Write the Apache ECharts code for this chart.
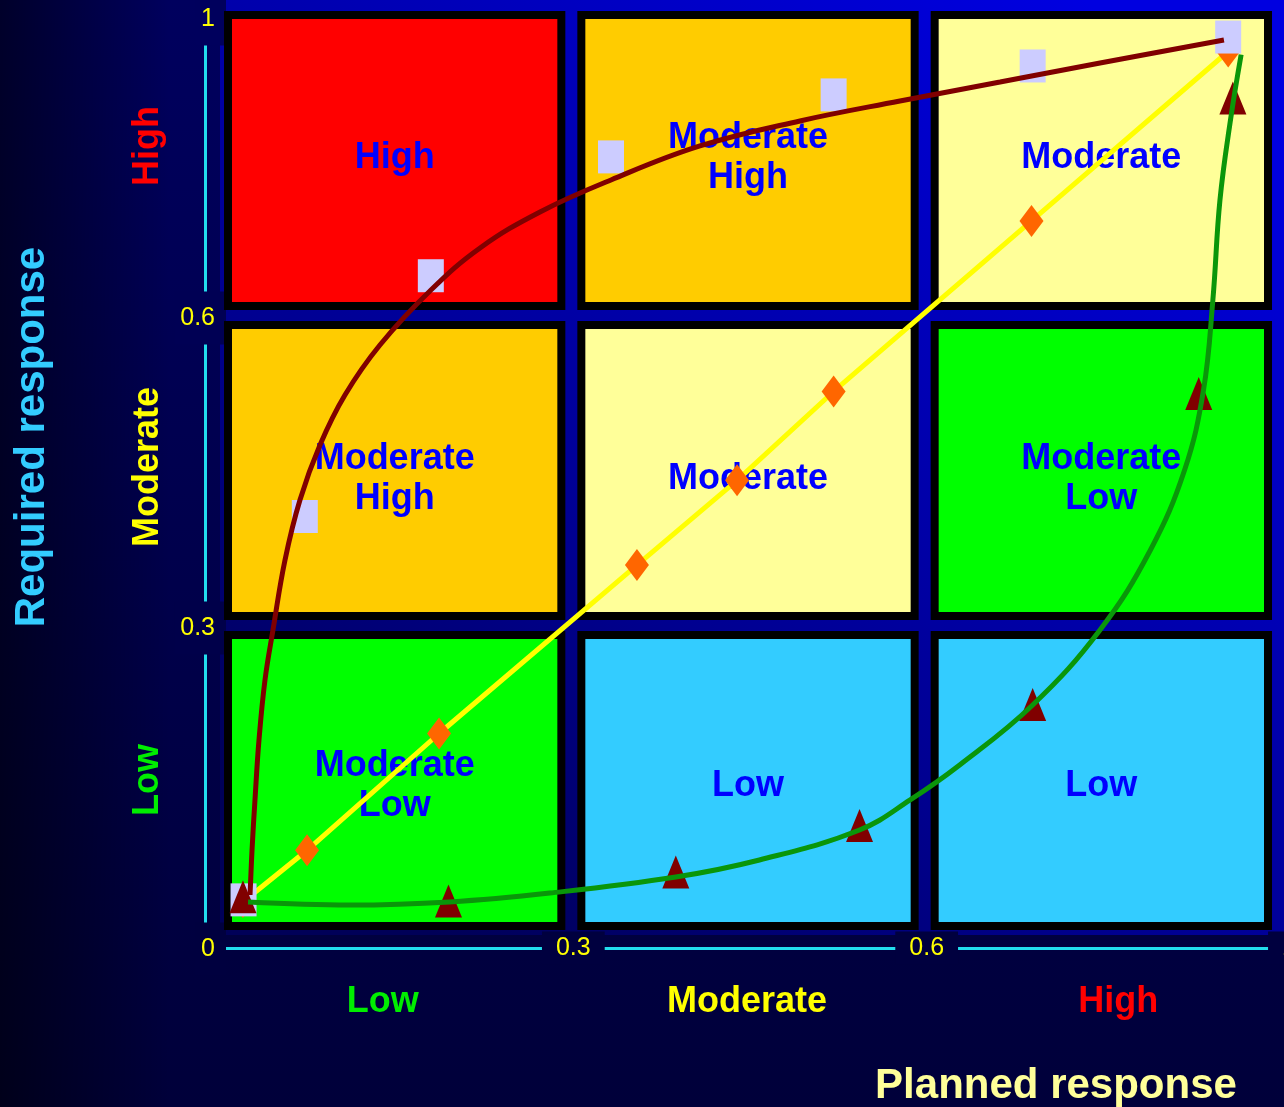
<!DOCTYPE html>
<html>
<head>
<meta charset="utf-8">
<script src="https://cdn.jsdelivr.net/npm/echarts@6/dist/echarts.min.js"></script>
<style>
  html, body { margin: 0; padding: 0; }
  #chart { width: 1284px; height: 1107px; }
</style>
</head>
<body>
<div id="chart"></div>
<script>
// Response bands (bottom to top / left to right)
const bands = ['Low', 'Moderate', 'High'];
const bandColors = ['#00ee00', '#ffff00', '#ff0000'];
const bandEdges = [0, 0.3, 0.6, 0.9];

// Tick labels of the two value axes
const yTickLabels = ['0', '0.3', '0.6', '1'];
const xTickLabels = ['0', '0.3', '0.6', '1'];

// Matrix cells, rows from Low (bottom) to High (top), columns Low..High
const cellFills = [
  ['#00ff00', '#33ccff', '#33ccff'],
  ['#ffcc00', '#ffff99', '#00ff00'],
  ['#ff0000', '#ffcc00', '#ffff99']
];
const cellLabels = [
  ['Moderate\nLow', 'Low', 'Low'],
  ['Moderate\nHigh', 'Moderate', 'Moderate\nLow'],
  ['High', 'Moderate\nHigh', 'Moderate']
];

// Lavender squares and their dark red trend curve
const squareX = [0.020, 0.072, 0.179, 0.332, 0.521, 0.690, 0.856];
const squareY = [0.034, 0.405, 0.638, 0.753, 0.813, 0.841, 0.869];
const redCurveX = [0.0255, 0.0272, 0.0297, 0.0331, 0.0382, 0.0450, 0.0552, 0.0679, 0.0849, 0.1061, 0.1358, 0.1791, 0.2208, 0.2717, 0.3320, 0.4075, 0.4924, 0.5773, 0.6623, 0.7472, 0.8524];
const redCurveY = [0.0387, 0.0823, 0.1307, 0.1887, 0.2468, 0.2952, 0.3629, 0.4210, 0.4742, 0.5226, 0.5710, 0.6242, 0.6649, 0.6997, 0.7307, 0.7636, 0.7878, 0.8071, 0.8255, 0.8439, 0.8662];

// Orange diamonds on the yellow line
const diamondX = [0.0195, 0.0739, 0.186, 0.354, 0.439, 0.521, 0.689, 0.856];
const diamondY = [0.032, 0.082, 0.195, 0.358, 0.440, 0.526, 0.691, 0.855];

// Dark red triangles and their green trend curve
const triangleX = [0.0195, 0.194, 0.387, 0.543, 0.690, 0.831, 0.860];
const triangleY = [0.037, 0.033, 0.061, 0.106, 0.223, 0.524, 0.810];
const greenCurveX = [0.0238, 0.110, 0.195, 0.280, 0.387, 0.458, 0.543, 0.586, 0.628, 0.690, 0.747, 0.790, 0.819, 0.835, 0.843, 0.849, 0.858, 0.867];
const greenCurveY = [0.0319, 0.029, 0.032, 0.0406, 0.0561, 0.0726, 0.1016, 0.1307, 0.1645, 0.2226, 0.295, 0.3726, 0.450, 0.527, 0.6145, 0.711, 0.789, 0.852];

const FONT = '"Liberation Sans", Arial, sans-serif';
const W = 1284, H = 1107;
const GRID = { left: 220, right: 4, top: 5, bottom: 172 };
const zip = (xs, ys) => xs.map((x, i) => [x, ys[i]]);

// Page background: navy fading darker downwards, with a dark band on the far left
const BG_TOP = 94, BG_BOTTOM = 58;
const bgAt = y => {
  const b = Math.round(BG_TOP + (BG_BOTTOM - BG_TOP) * y / H);
  return 'rgb(0,0,' + b + ')';
};
document.getElementById('chart').style.background =
  'linear-gradient(to right, rgba(0,0,0,0.55) 0px, rgba(0,0,0,0) 170px), ' +
  'linear-gradient(to bottom, ' + bgAt(0) + ', ' + bgAt(H) + ')';

// Pixel row of a y value inside the plot, used to tint the label masks
const plotH = H - GRID.top - GRID.bottom;
const yPix = v => GRID.top + plotH * (1 - v / 0.9);

const cellData = [];
for (let r = 0; r < 3; r++) for (let c = 0; c < 3; c++) cellData.push([c, r]);

function renderBackdrop(params, api) {
  const cs = params.coordSys;
  return {
    type: 'rect',
    shape: { x: cs.x, y: 0, width: cs.width + 20, height: cs.y + cs.height },
    style: {
      fill: new echarts.graphic.LinearGradient(0.2, 1, 0.8, 0, [
        { offset: 0, color: '#000058' },
        { offset: 0.35, color: '#000090' },
        { offset: 1, color: '#0000e0' }
      ])
    }
  };
}

const labelDy = [6, 9, -2];
function renderCell(params, api) {
  const c = api.value(0), r = api.value(1);
  const p0 = api.coord([bandEdges[c], bandEdges[r]]);
  const p1 = api.coord([bandEdges[c + 1], bandEdges[r + 1]]);
  const x = p0[0] + 4, y = p1[1] + 6;
  const w = p1[0] - 8 - x, h = p0[1] - 5 - y;
  const b = 8;
  return {
    type: 'group',
    children: [
      { type: 'rect', shape: { x, y, width: w, height: h }, style: { fill: '#000000' } },
      { type: 'rect', shape: { x: x + b, y: y + b, width: w - 2 * b, height: h - 2 * b }, style: { fill: cellFills[r][c] } },
      {
        type: 'text',
        x: x + w / 2, y: y + h / 2 + labelDy[r],
        style: {
          text: cellLabels[r][c], fill: '#0000ff',
          font: 'bold 36px ' + FONT, lineHeight: 40,
          align: 'center', verticalAlign: 'middle'
        }
      }
    ]
  };
}

const tickStyle = { color: '#ffff00', fontSize: 25, fontFamily: FONT, lineHeight: 25 };

const chart = echarts.init(document.getElementById('chart'), null, { renderer: 'canvas' });
chart.setOption({
  backgroundColor: 'transparent',
  animation: false,
  grid: Object.assign({ outerBoundsMode: 'none', containLabel: false }, GRID),
  xAxis: [
    {
      type: 'value', min: 0, max: 0.9, interval: 0.3, offset: 13,
      splitLine: { show: false }, axisTick: { show: false },
      axisLine: { show: true, onZero: false, lineStyle: { color: '#22ddee', width: 3 } },
      axisLabel: {
        showMinLabel: false, margin: 0, verticalAlign: 'middle',
        formatter: v => {
          const i = Math.round(v / 0.3);
          return i === 3 ? '{gap| }{t|' + xTickLabels[i] + '}' : '{t|' + xTickLabels[i] + '}';
        },
        rich: {
          gap: { width: 18, fontSize: 1 },
          t: Object.assign({ backgroundColor: bgAt(H - GRID.bottom + 13), padding: [4, 14] }, tickStyle)
        }
      }
    },
    {
      type: 'category', data: bands, position: 'bottom', offset: 0,
      axisLine: { show: false }, axisTick: { show: false }, splitLine: { show: false },
      axisLabel: {
        margin: 67, verticalAlign: 'middle',
        formatter: v => '{b' + bands.indexOf(v) + '|' + v + '}',
        rich: {
          b0: { color: bandColors[0], fontSize: 36, fontWeight: 'bold', fontFamily: FONT, padding: [0, 28, 0, 0] },
          b1: { color: bandColors[1], fontSize: 36, fontWeight: 'bold', fontFamily: FONT, padding: [0, 6, 0, 0] },
          b2: { color: bandColors[2], fontSize: 36, fontWeight: 'bold', fontFamily: FONT, padding: [0, 0, 0, 30] }
        }
      }
    }
  ],
  yAxis: [
    {
      type: 'value', min: 0, max: 0.9, interval: 0.3, offset: 15,
      splitLine: { show: false }, axisTick: { show: false },
      axisLine: { show: true, onZero: false, lineStyle: { color: '#22ddee', width: 3 } },
      axisLabel: {
        margin: -21, align: 'right',
        formatter: v => {
          const i = Math.round(v / 0.3);
          const g = (i === 0 || i === 3) ? 'gapL' : 'gapS';
          return '{' + g + '| }\n{t' + i + '|' + yTickLabels[i] + '}';
        },
        rich: Object.assign({
          gapL: { lineHeight: 28, fontSize: 1 },
          gapS: { lineHeight: 6, fontSize: 1 }
        }, ...[0, 1, 2, 3].map(i => ({ ['t' + i]: Object.assign({
          backgroundColor: bgAt(yPix(i * 0.3) + (i === 0 || i === 3 ? 14 : 3)), padding: [14, 11, 14, 6]
        }, tickStyle) })))
      }
    },
    {
      type: 'category', data: bands, position: 'left', offset: 0,
      axisLine: { show: false }, axisTick: { show: false }, splitLine: { show: false },
      axisLabel: {
        rotate: 90, margin: 72, align: 'center', verticalAlign: 'middle',
        formatter: v => '{b' + bands.indexOf(v) + '|' + v + '}',
        rich: {
          b0: { color: bandColors[0], fontSize: 36, fontWeight: 'bold', fontFamily: FONT, padding: [0, 0, 0, 0] },
          b1: { color: bandColors[1], fontSize: 36, fontWeight: 'bold', fontFamily: FONT, padding: [0, 0, 0, 6] },
          b2: { color: bandColors[2], fontSize: 36, fontWeight: 'bold', fontFamily: FONT, padding: [0, 0, 0, 28] }
        }
      }
    }
  ],
  graphic: [
    {
      type: 'text', x: 32, y: 437, rotation: Math.PI / 2,
      style: { text: 'Required response', fill: '#33ccff', font: 'bold 42px ' + FONT, align: 'center', verticalAlign: 'middle' }
    },
    {
      type: 'text', x: 1056, y: 1086,
      style: { text: 'Planned response', fill: '#ffff99', font: 'bold 42px ' + FONT, align: 'center', verticalAlign: 'middle' }
    }
  ],
  series: [
    { type: 'custom', name: 'backdrop', data: [[0, 0]], renderItem: renderBackdrop, silent: true, z: 0 },
    { type: 'custom', name: 'cells', data: cellData, renderItem: renderCell, silent: true, z: 1 },
    {
      type: 'line', name: 'Planned = required', data: zip(diamondX, diamondY), z: 2,
      lineStyle: { color: '#ffff00', width: 5 },
      symbol: 'diamond', symbolSize: [24, 32], showAllSymbol: true,
      itemStyle: { color: '#ff6600', borderWidth: 0 }
    },
    {
      type: 'scatter', name: 'squares', data: zip(squareX, squareY), z: 3,
      symbol: 'rect', symbolSize: [26, 33], itemStyle: { color: '#ccccff', opacity: 1 }
    },
    {
      type: 'scatter', name: 'triangles', data: zip(triangleX, triangleY), z: 4,
      symbol: 'triangle', symbolSize: [27, 33], itemStyle: { color: '#800000', opacity: 1 }
    },
    {
      type: 'line', name: 'red trend', data: zip(redCurveX, redCurveY), z: 5,
      smooth: 0.4, symbol: 'none', lineStyle: { color: '#800000', width: 5 }
    },
    {
      type: 'line', name: 'green trend', data: zip(greenCurveX, greenCurveY), z: 6,
      smooth: 0.4, symbol: 'none', lineStyle: { color: '#0a960a', width: 5 }
    }
  ]
});
</script>
</body>
</html>
